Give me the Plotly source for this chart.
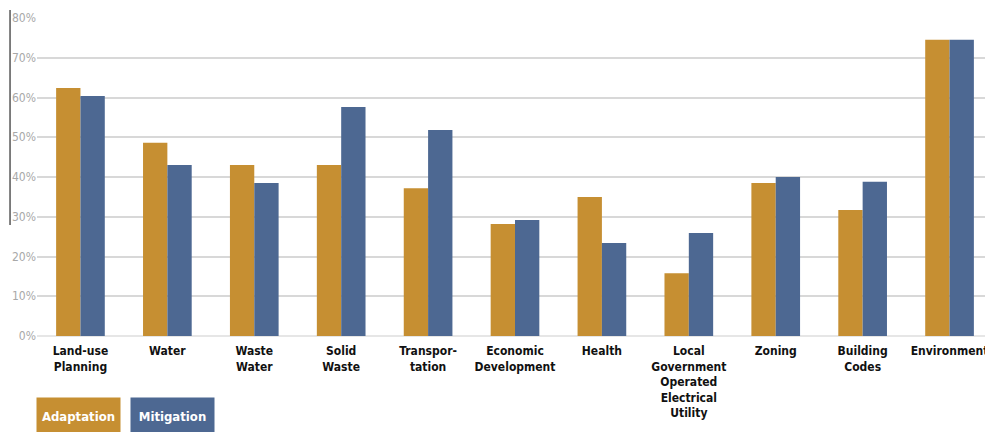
import plotly.graph_objects as go

categories = ["Land-use<br>Planning", "Water", "Waste<br>Water", "Solid<br>Waste",
              "Transpor-<br>tation", "Economic<br>Development", "Health",
              "Local<br>Government<br>Operated<br>Electrical<br>Utility",
              "Zoning", "Building<br>Codes", "Environment"]
adaptation = [62.4, 48.6, 43.0, 43.0, 37.2, 28.2, 35.0, 15.8, 38.5, 31.7, 74.5]
mitigation = [60.4, 43.0, 38.5, 57.6, 51.8, 29.2, 23.4, 25.9, 40.0, 38.8, 74.5]
y_ticks = [0, 10, 20, 30, 40, 50, 60, 70, 80]
y_labels = ["0%", "10%", "20%", "30%", "40%", "50%", "60%", "70%", "80%"]

ORANGE = "#C68F32"
BLUE = "#4D6892"
FONT = "DejaVu Sans Condensed, Roboto, sans-serif"

fig = go.Figure()
fig.add_trace(go.Bar(x=categories, y=adaptation, name="Adaptation",
                     marker=dict(color=ORANGE, line=dict(width=0))))
fig.add_trace(go.Bar(x=categories, y=mitigation, name="Mitigation",
                     marker=dict(color=BLUE, line=dict(width=0))))

fig.update_layout(
    width=985, height=424,
    margin=dict(l=29, r=0, t=10, b=96, autoexpand=False),
    paper_bgcolor="white", plot_bgcolor="white",
    barmode="group", bargap=0.44, bargroupgap=0,
    showlegend=False,
    font=dict(family=FONT),
    xaxis=dict(showgrid=False, showline=False, ticks="", automargin=False,
               tickfont=dict(family=FONT, size=12, color="#111111", weight="bold"),
               ticklabelstandoff=6,
               tickangle=0, range=[-0.5, 10.5]),
    yaxis=dict(range=[0, 80], tickvals=y_ticks, ticktext=y_labels, automargin=False,
               showgrid=True, gridcolor="#D8D8D8", gridwidth=2,
               zeroline=True, zerolinecolor="#E6E6E6", zerolinewidth=2,
               tickfont=dict(family=FONT, size=12, color="#A8A8A8"),
               ticks="", showline=False),
    shapes=[dict(type="line", xref="paper", yref="paper",
                 x0=-0.0282, x1=-0.0282, y0=1.025, y1=0.349,
                 line=dict(color="#555555", width=1.5))],
)

for label, color, xc in [("<b>Adaptation</b>", ORANGE, 0.0434), ("<b>Mitigation</b>", BLUE, 0.1416)]:
    fig.add_annotation(text=label, xref="paper", yref="paper", x=xc, y=-0.2516,
                       xanchor="center", yanchor="middle", showarrow=False,
                       bgcolor=color, width=77, height=30, borderpad=3,
                       font=dict(family=FONT, size=13, color="white"))

fig.write_html("out.html")
